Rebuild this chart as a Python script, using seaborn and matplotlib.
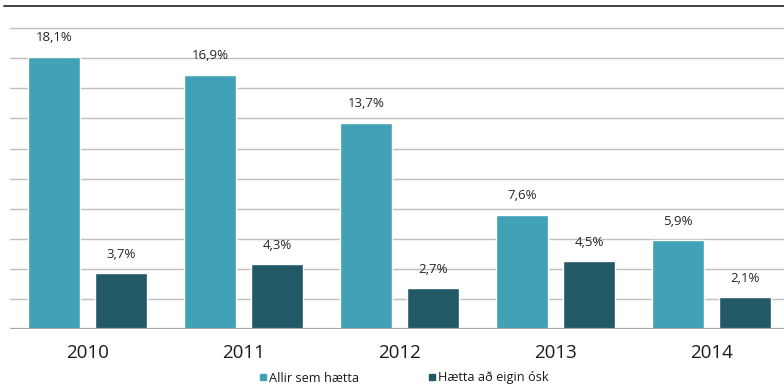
import matplotlib
matplotlib.use("Agg")
import matplotlib.pyplot as plt
from matplotlib.lines import Line2D
import seaborn as sns
import pandas as pd

years = ["2010", "2011", "2012", "2013", "2014"]
series_names = ["Allir sem hætta", "Hætta að eigin ósk"]
allir = [18.1, 16.9, 13.7, 7.6, 5.9]
eigin = [3.7, 4.3, 2.7, 4.5, 2.1]
colors = ["#41A1B6", "#215967"]

df = pd.DataFrame({
    "year": years * 2,
    "series": [series_names[0]] * len(years) + [series_names[1]] * len(years),
    "value": allir + eigin,
})

sns.set_theme(style="white")
plt.rcParams["font.family"] = ["Open Sans", "DejaVu Sans"]

W, H = 784, 387
fig = plt.figure(figsize=(W / 100, H / 100), dpi=100)
left_px, right_px, base_px, top_px = 9.5, 784, 329, 6
ax = fig.add_axes([left_px / W, (H - base_px) / H,
                   (right_px - left_px) / W, (base_px - top_px) / H])

sns.barplot(data=df, x="year", y="value", hue="series", palette=colors,
            width=0.86, gap=0.22, ax=ax, legend=False, saturation=1)

px_per_unit = 15.04
ax.set_ylim(0, (base_px - top_px) / px_per_unit)
ax.set_xlim(-0.5, -0.5 + (right_px - left_px) / 156)

for y in range(2, 22, 2):
    ax.axhline(y, color="#bfbfbf", lw=1.0, zorder=0)
ax.axhline(0, color="#a6a6a6", lw=1.6, zorder=3)

for s in ax.spines.values():
    s.set_visible(False)
ax.set_yticks([])
ax.set_xlabel("")
ax.set_ylabel("")
ax.tick_params(axis="x", length=0, pad=11, labelsize=13.5, labelcolor="#1a1a1a")

for cont in ax.containers:
    labels = [f"{b.get_height():.1f}%".replace(".", ",") for b in cont]
    ax.bar_label(cont, labels=labels, padding=9, fontsize=9.5, color="#262626")

# thin dark rule along the top edge
fig.add_artist(Line2D([4 / W, 1], [1 - 6 / H, 1 - 6 / H], color="#333333", lw=1.3))

handles = [Line2D([], [], marker="s", linestyle="", markersize=5,
                  markerfacecolor=c, markeredgecolor=c) for c in colors]
fig.legend(handles, series_names, loc="center", bbox_to_anchor=(404 / W, 1 - 378 / H),
           ncol=2, frameon=False, fontsize=9.2, handlelength=0.6, handletextpad=0.2,
           columnspacing=5.4, labelcolor="#1a1a1a")

fig.savefig("out.png", dpi=100)
